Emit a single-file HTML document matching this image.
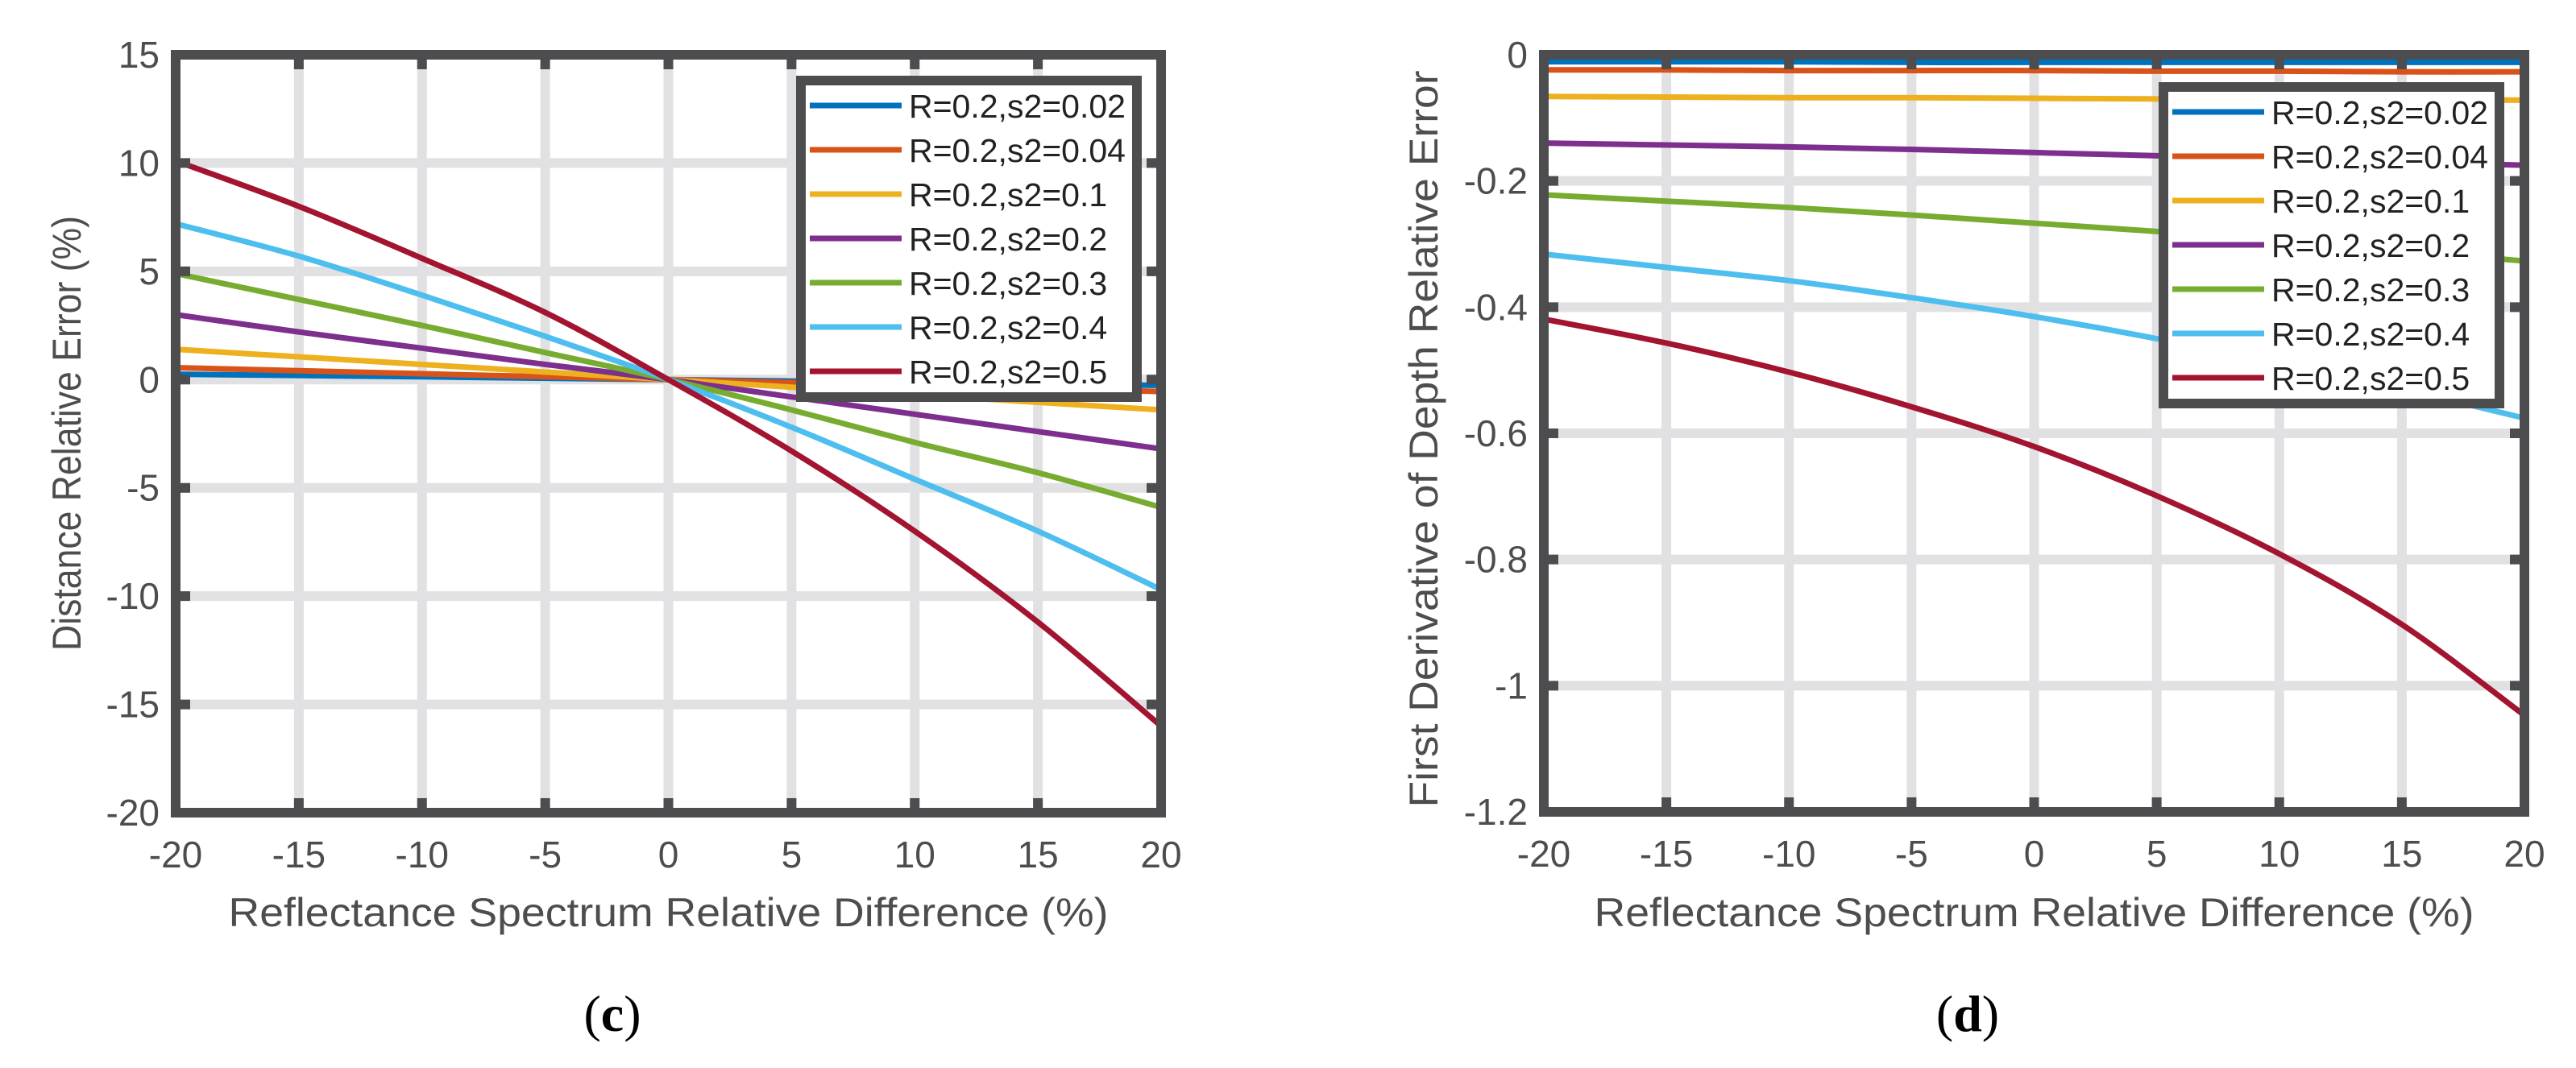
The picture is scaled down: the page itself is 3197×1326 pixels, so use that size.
<!DOCTYPE html>
<html><head><meta charset="utf-8"><style>
html,body{margin:0;padding:0;background:#fff;}
svg{display:block;font-family:"Liberation Sans",Arial,sans-serif;}
</style></head><body>
<svg id="fig" width="3197" height="1326" viewBox="0 0 3197 1326" xmlns="http://www.w3.org/2000/svg">
<rect width="3197" height="1326" fill="#fff"/>
</svg>
<script>
const xCats = [-20,-15,-10,-5,0,5,10,15,20];
const seriesNames = ["R=0.2,s2=0.02","R=0.2,s2=0.04","R=0.2,s2=0.1","R=0.2,s2=0.2","R=0.2,s2=0.3","R=0.2,s2=0.4","R=0.2,s2=0.5"];
const colors = ["#0072BD","#D95319","#EDB120","#7E2F8E","#77AC30","#4DBEEE","#A2142F"];
// panel (c) values
const cS1 = [0.25,0.19,0.13,0.06,0,-0.07,-0.13,-0.2,-0.27];
const cS2 = [0.55,0.41,0.27,0.13,0,-0.14,-0.27,-0.41,-0.55];
const cS3 = [1.4,1.05,0.7,0.35,0,-0.35,-0.7,-1.05,-1.4];
const cS4 = [3.0,2.2,1.45,0.7,0,-0.8,-1.6,-2.4,-3.2];
const cS5 = [4.9,3.7,2.5,1.25,0,-1.4,-2.9,-4.3,-5.9];
const cS6 = [7.2,5.7,3.9,2.0,0,-2.2,-4.6,-7.0,-9.7];
const cS7 = [10.1,8.0,5.6,3.1,0,-3.3,-7.0,-11.2,-16.0];
const cTicks = [15,10,5,0,-5,-10,-15,-20];
// panel (d) values
const dS1 = [-0.011,-0.011,-0.011,-0.012,-0.012,-0.012,-0.012,-0.012,-0.012];
const dS2 = [-0.024,-0.024,-0.025,-0.025,-0.025,-0.026,-0.026,-0.027,-0.027];
const dS3 = [-0.066,-0.067,-0.068,-0.068,-0.069,-0.07,-0.07,-0.071,-0.072];
const dS4 = [-0.140,-0.143,-0.146,-0.150,-0.155,-0.160,-0.165,-0.170,-0.175];
const dS5 = [-0.222,-0.232,-0.242,-0.254,-0.267,-0.280,-0.295,-0.310,-0.327];
const dS6 = [-0.316,-0.337,-0.358,-0.385,-0.415,-0.450,-0.490,-0.530,-0.576];
const dS7 = [-0.419,-0.457,-0.503,-0.558,-0.621,-0.699,-0.791,-0.903,-1.047];
const dTicks = [0,-0.2,-0.4,-0.6,-0.8,-1,-1.2];
const xTicks = [-20,-15,-10,-5,0,5,10,15,20];

const NS="http://www.w3.org/2000/svg";
const svg=document.getElementById('fig');
function mk(tag,attrs,parent){const e=document.createElementNS(NS,tag);for(const k in attrs)e.setAttribute(k,attrs[k]);(parent||svg).appendChild(e);return e;}
const FR="#4d4d4f", GR="#e1e1e3", TX="#4d4d4f";

function smoothPath(P){
  let d='M'+P[0][0]+','+P[0][1];
  for(let i=0;i<P.length-1;i++){
    const p0=P[i-1]||P[i], p1=P[i], p2=P[i+1], p3=P[i+2]||P[i+1];
    const c1=[p1[0]+(p2[0]-p0[0])/6, p1[1]+(p2[1]-p0[1])/6];
    const c2=[p2[0]-(p3[0]-p1[0])/6, p2[1]-(p3[1]-p1[1])/6];
    d+=' C'+c1[0]+','+c1[1]+' '+c2[0]+','+c2[1]+' '+p2[0]+','+p2[1];
  }
  return d;
}

function panel(o){
  const g=mk('g',{});
  
  
  const sx=v=>o.x0+(v-(-20))/40*(o.x1-o.x0);
  const sy=v=>o.y0+(o.ymax-v)/(o.ymax-o.ymin)*(o.y1-o.y0);
  xTicks.forEach(t=>{const l=mk('line',{x1:sx(t),x2:sx(t),y1:o.y0,y2:o.y1,stroke:GR,'stroke-width':12},g);
    
    });
  o.yTicks.forEach(t=>{const l=mk('line',{x1:o.x0,x2:o.x1,y1:sy(t),y2:sy(t),stroke:GR,'stroke-width':12},g);
    
    });
  o.series.forEach((s,i)=>{
    const P=xCats.map((x,j)=>[sx(x),sy(s[j])]);
    const p=mk('path',{d:smoothPath(P),fill:'none',stroke:colors[i],'stroke-width':7,'stroke-linejoin':'round'},g);
    
    
  });
  xTicks.forEach(t=>{
    mk('line',{x1:sx(t),x2:sx(t),y1:o.y1,y2:o.y1-18,stroke:FR,'stroke-width':12},g);
    mk('line',{x1:sx(t),x2:sx(t),y1:o.y0,y2:o.y0+18,stroke:FR,'stroke-width':12},g);
    const tx=mk('text',{x:sx(t),y:o.y1+68,'font-size':46,fill:TX,'text-anchor':'middle'},g);
    tx.textContent=String(t);
    
    
  });
  o.yTicks.forEach(t=>{
    mk('line',{x1:o.x0,x2:o.x0+18,y1:sy(t),y2:sy(t),stroke:FR,'stroke-width':12},g);
    mk('line',{x1:o.x1,x2:o.x1-18,y1:sy(t),y2:sy(t),stroke:FR,'stroke-width':12},g);
    const tx=mk('text',{x:o.ylx,y:sy(t)+16,'font-size':46,fill:TX,'text-anchor':'end'},g);
    tx.textContent=String(t);
    
    
  });
  const f=mk('rect',{x:o.x0,y:o.y0,width:o.x1-o.x0,height:o.y1-o.y0,fill:'none',stroke:FR,'stroke-width':12},g);
  
  
  const xt=mk('text',{x:(o.x0+o.x1)/2,y:1150,'font-size':50,fill:TX,'text-anchor':'middle',textLength:1092,lengthAdjust:'spacingAndGlyphs'},g);
  xt.textContent="Reflectance Spectrum Relative Difference (%)";
  
  
  const yt=mk('text',{x:0,y:0,'font-size':50,fill:TX,'text-anchor':'middle',textLength:o.ytLen,lengthAdjust:'spacingAndGlyphs',transform:`translate(${o.ytx},${o.yty}) rotate(-90)`},g);
  yt.textContent=o.ytitle;
  
  
  const lg=mk('g',{},g);
  
  
  mk('rect',{x:o.lx+6,y:o.ly+6,width:417,height:393,fill:'#fff',stroke:FR,'stroke-width':12},lg);
  seriesNames.forEach((n,i)=>{
    const cy=o.ly+37+i*55;
    const e=mk('g',{},lg);
    
    
    mk('line',{x1:o.lx+17,x2:o.lx+131,y1:cy,y2:cy,stroke:colors[i],'stroke-width':7},e);
    const t=mk('text',{x:o.lx+140,y:cy+15,'font-size':41,fill:'#222'},e);
    t.textContent=n;
  });
  const cap=mk('text',{x:o.capx,y:1280,'font-size':64,fill:'#000','text-anchor':'middle','font-family':'"Liberation Serif",serif'},g);
  cap.innerHTML='(<tspan font-weight="bold">'+o.cap+'</tspan>)';
  
  
}

panel({name:'chart-c',x0:218,x1:1441,y0:68,y1:1009,ymin:-20,ymax:15,yTicks:cTicks,ylx:198,
  series:[cS1,cS2,cS3,cS4,cS5,cS6,cS7],ytitle:"Distance Relative Error (%)",ytx:100,yty:538,ytLen:540,
  lx:988,ly:94,capx:760,cap:'c'});
panel({name:'chart-d',x0:1916,x1:3133,y0:68,y1:1008,ymin:-1.2,ymax:0,yTicks:dTicks,ylx:1896,
  series:[dS1,dS2,dS3,dS4,dS5,dS6,dS7],ytitle:"First Derivative of Depth Relative Error",ytx:1784,yty:545,ytLen:915,
  lx:2679,ly:102,capx:2442,cap:'d'});
</script>
</body></html>
